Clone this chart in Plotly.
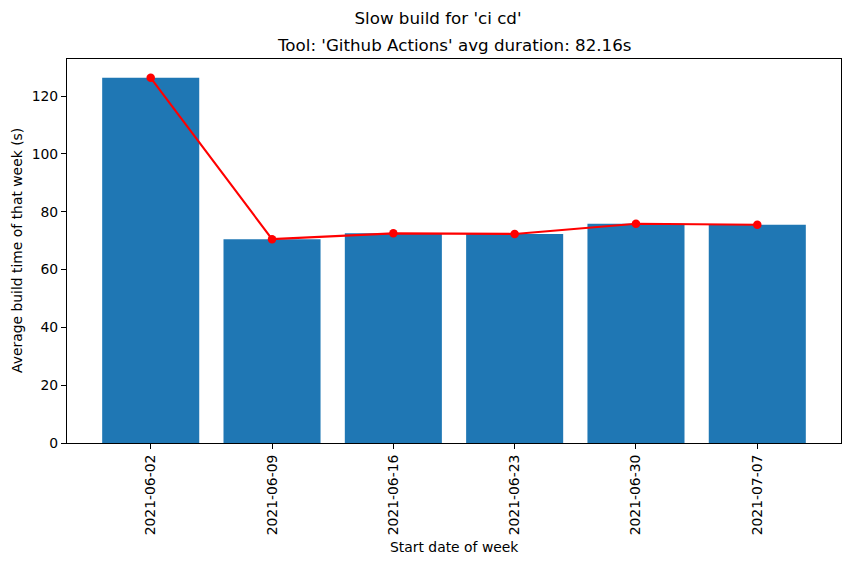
import plotly.graph_objects as go

weeks = ["2021-06-02", "2021-06-09", "2021-06-16", "2021-06-23", "2021-06-30", "2021-07-07"]
avg_time = [126.3, 70.5, 72.5, 72.3, 75.8, 75.5]

# page is rendered with an 8px body offset; compensate
OFF = 8
W, H = 850, 564
L, R, T, B = 67 - OFF, 9 + OFF, 59 - OFF, 120.5 + OFF

fig = go.Figure()
fig.add_trace(go.Bar(x=weeks, y=avg_time, marker=dict(color="#1f77b4", line=dict(width=0)),
                     width=0.8, showlegend=False))
fig.add_trace(go.Scatter(x=weeks, y=avg_time, mode="lines+markers",
                         line=dict(color="red", width=2.1),
                         marker=dict(color="red", size=8.5), showlegend=False))

font = "DejaVu Sans"
ann = dict(xref="paper", yref="paper", showarrow=False, font=dict(size=16.7, family=font, color="black"))
fig.update_layout(
    width=W, height=H,
    margin=dict(l=L, r=R, t=T, b=B),
    paper_bgcolor="white", plot_bgcolor="white",
    font=dict(family=font, size=13.9, color="black"),
    title=dict(text="Slow build for 'ci cd'", x=(438 - OFF) / W, xanchor="center",
               y=1 - (18.5 - OFF) / H, yanchor="middle", font=dict(size=16.7, family=font)),
    annotations=[
        dict(ann, text="Tool: 'Github Actions' avg duration: 82.16s",
             x=0.5, y=1, yshift=14, xanchor="center", yanchor="middle"),
        dict(ann, text="Start date of week", x=0.5, y=0, yshift=-103.5,
             xanchor="center", yanchor="middle", font=dict(size=13.9, family=font, color="black")),
        dict(ann, text="Average build time of that week (s)", x=0, y=0.5, xshift=-50,
             xanchor="center", yanchor="middle", textangle=-90,
             font=dict(size=13.9, family=font, color="black")),
    ],
)
fig.update_xaxes(type="category", range=[-0.69, 5.69], tickangle=-90,
                 showline=True, linecolor="black", linewidth=1.1, mirror=True,
                 ticks="outside", ticklen=5, tickcolor="black", showgrid=False,
                 tickfont=dict(size=13.9))
fig.update_yaxes(range=[0, 132.8], tickvals=[0, 20, 40, 60, 80, 100, 120],
                 showline=True, linecolor="black", linewidth=1.1, mirror=True,
                 ticks="outside", ticklen=5, tickcolor="black", showgrid=False, zeroline=False,
                 tickfont=dict(size=13.9))

fig.write_html("out.html")
